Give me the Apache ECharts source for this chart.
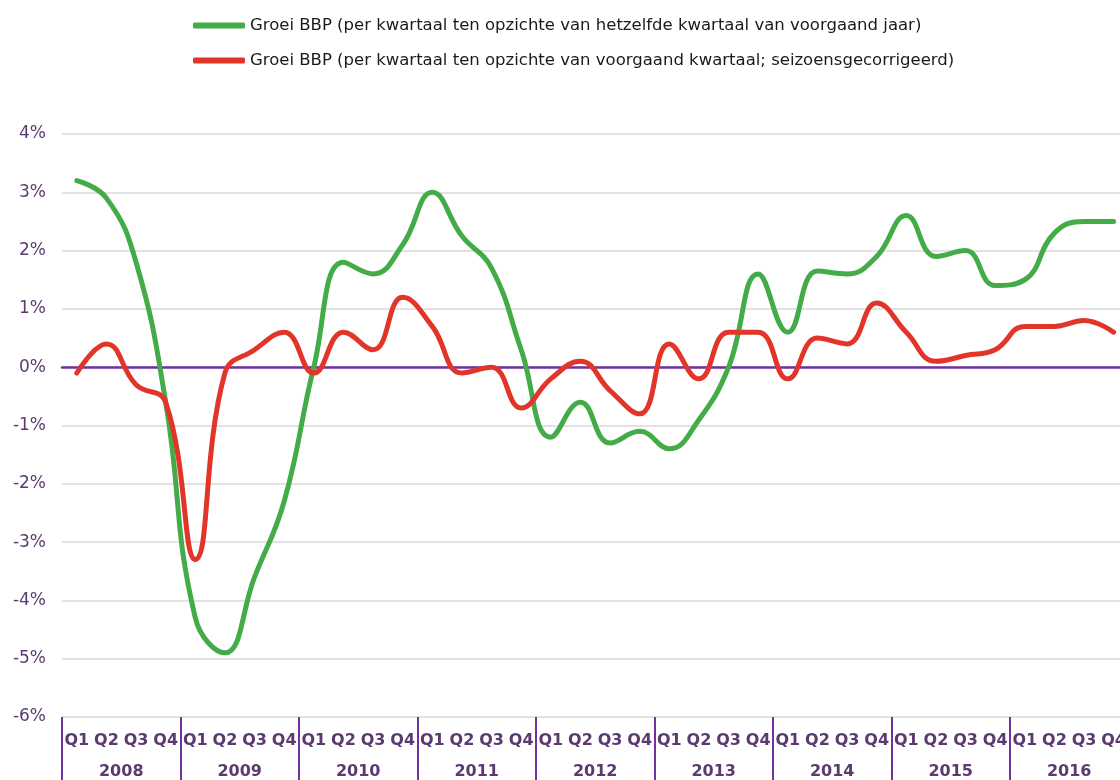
<!DOCTYPE html>
<html>
<head>
<meta charset="utf-8">
<script src="https://cdn.jsdelivr.net/npm/echarts@6/dist/echarts.min.js"></script>
<style>
  html, body { margin: 0; padding: 0; background: #fff; overflow: hidden; }
  /* the source picture is cropped on the right, so the chart is a bit wider than the window */
  #chart { width: 1129px; height: 780px; }
</style>
</head>
<body>
<div id="chart"></div>
<script>
const years = ['2008', '2009', '2010', '2011', '2012', '2013', '2014', '2015', '2016']
const quarters = []
years.forEach(function () { quarters.push('Q1', 'Q2', 'Q3', 'Q4') })

// groei t.o.v. zelfde kwartaal vorig jaar (%)
const groeiJaar = [
  3.2, 2.9, 1.8, -0.6,
  -4.3, -4.9, -3.6, -2.3,
  0.0, 1.8, 1.6, 2.1,
  3.0, 2.25, 1.7, 0.3,
  -1.2, -0.6, -1.3, -1.1,
  -1.4, -0.9, 0.0, 1.6,
  0.6, 1.65, 1.6, 1.9,
  2.6, 1.9, 2.0, 1.4,
  1.5, 2.3, 2.5, 2.5
]
// groei t.o.v. vorig kwartaal, seizoensgecorrigeerd (%)
const groeiKwartaal = [
  -0.1, 0.4, -0.3, -0.6,
  -3.3, -0.1, 0.3, 0.6,
  -0.1, 0.6, 0.3, 1.2,
  0.7, -0.1, 0.0, -0.7,
  -0.2, 0.1, -0.4, -0.8,
  0.4, -0.2, 0.6, 0.6,
  -0.2, 0.5, 0.4, 1.1,
  0.6, 0.1, 0.2, 0.3,
  0.7, 0.7, 0.8, 0.6
]
const legendNames = [
  'Groei BBP (per kwartaal ten opzichte van hetzelfde kwartaal van voorgaand jaar)',
  'Groei BBP (per kwartaal ten opzichte van voorgaand kwartaal; seizoensgecorrigeerd)'
]

const purple = '#7030a0'
const labelPurple = '#5b3a70'
const font = 'DejaVu Sans, Verdana, sans-serif'

const chart = echarts.init(document.getElementById('chart'))

const option = {
  animation: false,
  backgroundColor: '#fff',
  textStyle: { fontFamily: font },
  legend: {
    orient: 'vertical',
    left: 193,
    top: 17,
    padding: 0,
    itemWidth: 52,
    itemHeight: 6,
    itemGap: 18,
    icon: 'roundRect',
    textStyle: { fontSize: 16.5, color: '#1a1a1a', fontFamily: font },
    data: legendNames
  },
  grid: { left: 62, top: 134, right: 0, height: 584 },
  xAxis: [
    {
      type: 'category',
      data: quarters,
      position: 'bottom',
      axisLine: { show: false, onZero: false },
      axisTick: { show: false },
      axisLabel: {
        interval: 0, margin: 16, color: labelPurple,
        fontSize: 16, fontWeight: 'bold', fontFamily: font
      },
      splitLine: { show: false }
    },
    {
      type: 'category',
      data: years,
      position: 'bottom',
      axisLine: { show: false, onZero: false },
      axisTick: {
        show: true, interval: 0, length: 64,
        lineStyle: { color: purple, width: 2 }
      },
      axisLabel: {
        interval: 0, margin: 47, color: labelPurple,
        fontSize: 16, fontWeight: 'bold', fontFamily: font
      },
      splitLine: { show: false }
    },
    {
      type: 'category',
      data: quarters,
      position: 'bottom',
      axisLine: { show: true, onZero: true, lineStyle: { color: purple, width: 2.5 } },
      axisTick: { show: false },
      axisLabel: { show: false },
      splitLine: { show: false }
    }
  ],
  yAxis: {
    type: 'value',
    min: -6,
    max: 4,
    interval: 1,
    axisLine: { show: false },
    axisTick: { show: false },
    axisLabel: {
      formatter: '{value}%', color: labelPurple, fontSize: 17,
      margin: 16, fontFamily: font
    },
    splitLine: { lineStyle: { color: '#d9d9d9', width: 1.5 } }
  },
  series: [
    {
      name: legendNames[0],
      type: 'line',
      data: groeiJaar,
      smooth: 0.45,
      symbol: 'none',
      color: '#43ab47',
      lineStyle: { width: 5, color: '#43ab47', cap: 'round' }
    },
    {
      name: legendNames[1],
      type: 'line',
      data: groeiKwartaal,
      smooth: 0.45,
      symbol: 'none',
      color: '#e2352a',
      lineStyle: { width: 5, color: '#e2352a', cap: 'round' }
    }
  ]
}

chart.setOption(option)
</script>
</body>
</html>
